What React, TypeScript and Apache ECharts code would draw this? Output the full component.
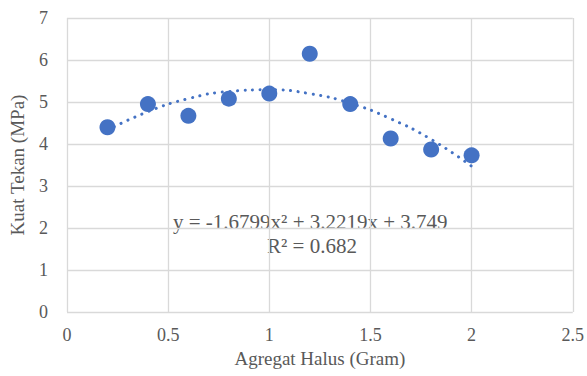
import React, { useEffect, useRef } from "react";
import * as echarts from "echarts";

const xValues = [0.2, 0.4, 0.6, 0.8, 1.0, 1.2, 1.4, 1.6, 1.8, 2.0];
const yValues = [4.4, 4.95, 4.67, 5.08, 5.2, 6.15, 4.95, 4.13, 3.87, 3.73];
// Trendline as shown in the chart (values read at each x)
const trendX = [0.2, 0.4, 0.6, 0.8, 1.0, 1.2, 1.4, 1.6, 1.8, 2.0];
const trendY = [4.33, 4.77, 5.08, 5.25, 5.29, 5.2, 4.97, 4.6, 4.11, 3.47];
const equationText = "y = -1.6799x² + 3.2219x + 3.749";
const r2Text = "R² = 0.682";

export default function App() {
  const ref = useRef<HTMLDivElement>(null);
  useEffect(() => {
    document.body.style.margin = "0";
    if (!ref.current) return;
    const chart = echarts.init(ref.current, null, { renderer: "svg" });
    const font = "Liberation Serif";
    const textColor = "#595959";
    chart.setOption({
      animation: false,
      backgroundColor: "#fff",
      textStyle: { fontFamily: font },
      grid: { left: 61, right: 11, top: 18, bottom: 64 },
      xAxis: {
        type: "value",
        min: 0,
        max: 2.5,
        interval: 0.5,
        name: "Agregat Halus (Gram)",
        nameLocation: "middle",
        nameGap: 34,
        nameTextStyle: { color: textColor, fontSize: 19, fontFamily: font },
        axisLine: { show: false },
        axisTick: { show: false },
        axisLabel: { color: textColor, fontSize: 18, fontFamily: font, margin: 14 },
        splitLine: { show: true, lineStyle: { color: "#d9d9d9", width: 1.3 } },
      },
      yAxis: {
        type: "value",
        min: 0,
        max: 7,
        interval: 1,
        name: "Kuat Tekan (MPa)",
        nameLocation: "middle",
        nameGap: 40,
        nameTextStyle: { color: textColor, fontSize: 19, fontFamily: font },
        axisLine: { show: false },
        axisTick: { show: false },
        axisLabel: { color: textColor, fontSize: 18, fontFamily: font, margin: 19 },
        splitLine: { show: true, lineStyle: { color: "#d9d9d9", width: 1.3 } },
      },
      graphic: [
        {
          type: "text",
          left: 173,
          top: 211,
          style: { text: equationText, fill: textColor, fontSize: 21, fontFamily: font },
        },
        {
          type: "text",
          left: 267,
          top: 235,
          style: { text: r2Text, fill: textColor, fontSize: 21, fontFamily: font },
        },
      ],
      series: [
        {
          type: "line",
          data: trendX.map((x, i) => [x, trendY[i]]),
          smooth: true,
          showSymbol: false,
          symbol: "none",
          lineStyle: { color: "#4472C4", width: 3, type: [0.1, 7.5], cap: "round" },
          z: 1,
        },
        {
          type: "scatter",
          data: xValues.map((x, i) => [x, yValues[i]]),
          symbolSize: 16,
          itemStyle: { color: "#4472C4", opacity: 1 },
          z: 2,
        },
      ],
    });
    return () => chart.dispose();
  }, []);
  return <div ref={ref} style={{ width: 587, height: 376 }} />;
}
